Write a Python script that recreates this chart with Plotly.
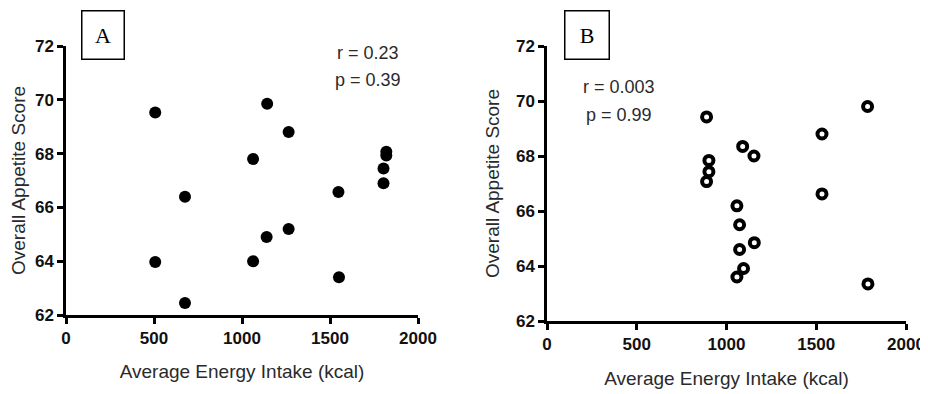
import plotly.graph_objects as go

# Panel A data
a_energy = [507, 676, 1143, 1265, 1063, 1548, 1820, 1820, 1804, 1804,
            507, 676, 1063, 1140, 1265, 1551]
a_score = [69.53, 66.4, 69.85, 68.8, 67.8, 66.57, 68.07, 67.93, 67.45, 66.9,
           63.97, 62.45, 64.0, 64.9, 65.2, 63.4]

# Panel B data
b_energy = [889, 902, 902, 889, 1090, 1153, 1532, 1786, 1532,
            1058, 1073, 1155, 1073, 1095, 1058, 1788]
b_score = [69.42, 67.84, 67.43, 67.07, 68.35, 68.0, 68.8, 69.8, 66.62,
           66.19, 65.5, 64.85, 64.6, 63.91, 63.6, 63.35]

x_ticks = [0, 500, 1000, 1500, 2000]
y_ticks = [62, 64, 66, 68, 70, 72]
x_title = "Average Energy Intake (kcal)"
y_title = "Overall Appetite Score"
stats_a = ["r = 0.23", "p = 0.39"]
stats_b = ["r = 0.003", "p = 0.99"]
panel_labels = ["A", "B"]

# page body adds an 8px offset; size the figure to fill the rest of the window
OFF = 8
W, H = 928 - OFF, 394 - OFF
ml, mr, mt, mb = 66 - OFF, 22, 46 - OFF, 73
pw = W - ml - mr
ph = H - mt - mb

def px_x(p):
    return (p - OFF - ml) / pw

def px_y(p):
    return (mt + ph - (p - OFF)) / ph

fig = go.Figure()
fig.add_trace(go.Scatter(x=a_energy, y=a_score, mode="markers", xaxis="x", yaxis="y",
                         marker=dict(symbol="circle", size=12, color="black"),
                         showlegend=False))
fig.add_trace(go.Scatter(x=b_energy, y=b_score, mode="markers", xaxis="x2", yaxis="y2",
                         marker=dict(symbol="circle", size=9, color="white",
                                     line=dict(color="black", width=4)),
                         showlegend=False))

tickfont = dict(family="Liberation Sans, Arial, sans-serif", size=17,
                color="#111", weight=700)
titlefont = dict(family="Liberation Sans, Arial, sans-serif", size=19, color="#2a2a2a")

def xax(domain, anchor, standoff):
    return dict(domain=domain, anchor=anchor, range=[0, 2000], tickvals=x_ticks,
                showgrid=False, zeroline=False, showline=True, linecolor="black",
                linewidth=2.5, ticks="outside", ticklen=6, tickwidth=2.5,
                tickcolor="black", tickfont=tickfont, automargin=False,
                title=dict(text=x_title, font=titlefont, standoff=standoff))

def yax(domain, anchor, standoff):
    return dict(domain=domain, anchor=anchor, range=[62, 72], tickvals=y_ticks,
                showgrid=False, zeroline=False, showline=True, linecolor="black",
                linewidth=2.5, ticks="outside", ticklen=6, tickwidth=2.5,
                tickcolor="black", tickfont=tickfont, automargin=False,
                title=dict(text=y_title, font=titlefont, standoff=standoff))

fig.update_layout(
    width=W, height=H,
    margin=dict(l=ml, r=mr, t=mt, b=mb, autoexpand=False),
    paper_bgcolor="white", plot_bgcolor="white",
    xaxis=xax([0, px_x(418)], "y", 18),
    yaxis=yax([px_y(315), 1], "x", 8),
    xaxis2=xax([px_x(547), 1], "y2", 19),
    yaxis2=yax([0, 1], "x2", 12),
)

annfont = dict(family="Liberation Sans, Arial, sans-serif", size=18, color="#2a2a2a")
labfont = dict(family="Liberation Serif, Times New Roman, serif", size=22, color="black")

anns = [
    dict(x=px_x(368), y=px_y(53), text=stats_a[0]),
    dict(x=px_x(368), y=px_y(80), text=stats_a[1]),
    dict(x=px_x(619), y=px_y(87), text=stats_b[0]),
    dict(x=px_x(619), y=px_y(115), text=stats_b[1]),
]
for a in anns:
    a.update(xref="paper", yref="paper", showarrow=False, font=annfont,
             xanchor="center", yanchor="middle")
    fig.add_annotation(**a)

fig.add_annotation(xref="paper", yref="paper", x=px_x(103), y=px_y(35), text=panel_labels[0],
                   showarrow=False, font=labfont, width=41, height=47,
                   bordercolor="black", borderwidth=1.5, borderpad=0,
                   xanchor="center", yanchor="middle")
fig.add_annotation(xref="paper", yref="paper", x=px_x(587), y=px_y(35), text=panel_labels[1],
                   showarrow=False, font=labfont, width=43, height=47,
                   bordercolor="black", borderwidth=1.5, borderpad=0,
                   xanchor="center", yanchor="middle")

fig.write_html("out.html")
